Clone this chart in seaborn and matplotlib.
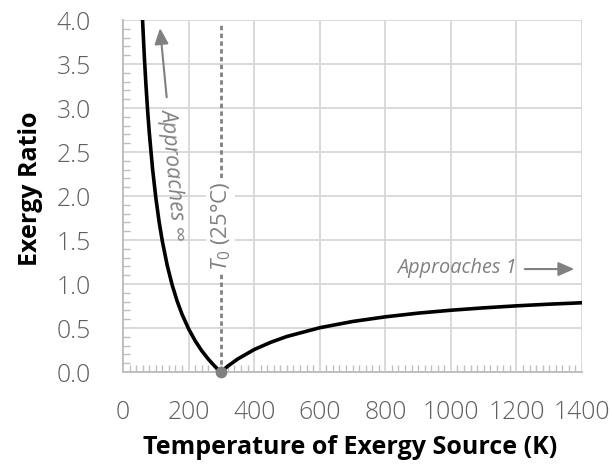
import matplotlib
matplotlib.use("Agg")
import matplotlib.pyplot as plt
import seaborn as sns
import pandas as pd
from matplotlib.ticker import MultipleLocator

# Data
temperature_K = [55, 60, 65, 70, 75, 80, 90, 100, 110, 120, 135, 150, 165, 180, 200,
                 220, 240, 260, 280, 298.15, 320, 350, 400, 450, 500, 600, 700, 800,
                 900, 1000, 1100, 1200, 1300, 1400]
exergy_ratio = [4.42, 3.969, 3.587, 3.259, 2.975, 2.727, 2.313, 1.982, 1.710, 1.485,
                1.209, 0.988, 0.807, 0.656, 0.491, 0.355, 0.242, 0.147, 0.065, 0.0,
                0.068, 0.148, 0.255, 0.337, 0.404, 0.503, 0.574, 0.627, 0.669, 0.702,
                0.729, 0.752, 0.771, 0.787]
T0 = 298.15
x_ticks = [0, 200, 400, 600, 800, 1000, 1200, 1400]
y_ticks = [0.0, 0.5, 1.0, 1.5, 2.0, 2.5, 3.0, 3.5, 4.0]

sns.set_theme(style="white")
plt.rcParams["font.family"] = ["Open Sans", "DejaVu Sans"]
plt.rcParams["mathtext.fontset"] = "custom"
plt.rcParams["mathtext.it"] = "Open Sans:italic"
plt.rcParams["mathtext.rm"] = "Open Sans"

df = pd.DataFrame({"T": temperature_K, "ratio": exergy_ratio})

fig = plt.figure(figsize=(6.12, 4.66), dpi=100)
ax = fig.add_axes([0.201, 0.2017, 0.750, 0.7553])

grid_c = "#d9d9d9"
gray = "#808080"

sns.lineplot(data=df, x="T", y="ratio", ax=ax, color="black", linewidth=2.6,
             estimator=None, sort=False, zorder=4)

ax.set_xlim(0, 1400)
ax.set_ylim(0, 4.0)
ax.set_xticks(x_ticks)
ax.set_yticks(y_ticks)
ax.set_xticklabels([str(t) for t in x_ticks], fontweight=300)
ax.set_yticklabels([f"{v:.1f}" for v in y_ticks], fontweight=300)
ax.xaxis.set_minor_locator(MultipleLocator(20))
ax.yaxis.set_minor_locator(MultipleLocator(0.1))
ax.grid(True, which="major", color=grid_c, linewidth=1.4)
ax.set_axisbelow(True)
ax.tick_params(axis="both", which="major", length=0, labelsize=17.8,
               labelcolor="#606060")
ax.tick_params(axis="x", which="major", pad=20)
ax.tick_params(axis="y", which="major", pad=23)
ax.tick_params(axis="both", which="minor", direction="in", length=5,
               width=1, color="#bfbfbf", bottom=True, left=True)
for s in ["top", "right"]:
    ax.spines[s].set_visible(False)
for s in ["left", "bottom"]:
    ax.spines[s].set_color("#bfbfbf")
    ax.spines[s].set_linewidth(1.4)

ax.set_xlabel("Temperature of Exergy Source (K)", fontsize=18, fontweight="bold",
              color="black")
ax.set_ylabel("Exergy Ratio", fontsize=18, fontweight="bold", color="black")
ax.xaxis.set_label_coords(0.495, -0.178)
ax.yaxis.set_label_coords(-0.175, 0.52)

# T0 reference line
ax.plot([T0, T0], [0, 3.95], color=gray, linestyle=(0, (1.6, 1.2)), linewidth=2,
        zorder=3)
ax.text(T0, 1.66, r"$T_0$ (25°C)", rotation=90, ha="center", va="center",
        fontsize=16, color=gray, zorder=5,
        bbox=dict(facecolor="white", edgecolor="none", pad=2))
ax.scatter([T0], [0], s=55, color=gray, zorder=6, clip_on=False)

# Annotations
ax.annotate("", xy=(112, 3.94), xytext=(134, 3.09),
            arrowprops=dict(arrowstyle="-|>,head_length=0.8,head_width=0.35",
                            color=gray, lw=1.5))
ax.text(153, 2.25, "Approaches ∞", rotation=-85, ha="center", va="center",
        fontsize=15.5, color=gray, style="italic", rotation_mode="anchor")
ax.text(835, 1.18, "Approaches 1", ha="left", va="center", fontsize=14.3,
        color=gray, style="italic")
ax.annotate("", xy=(1385, 1.17), xytext=(1217, 1.17),
            arrowprops=dict(arrowstyle="-|>,head_length=0.8,head_width=0.35",
                            color=gray, lw=1.5))

fig.savefig("out.png", dpi=100)
